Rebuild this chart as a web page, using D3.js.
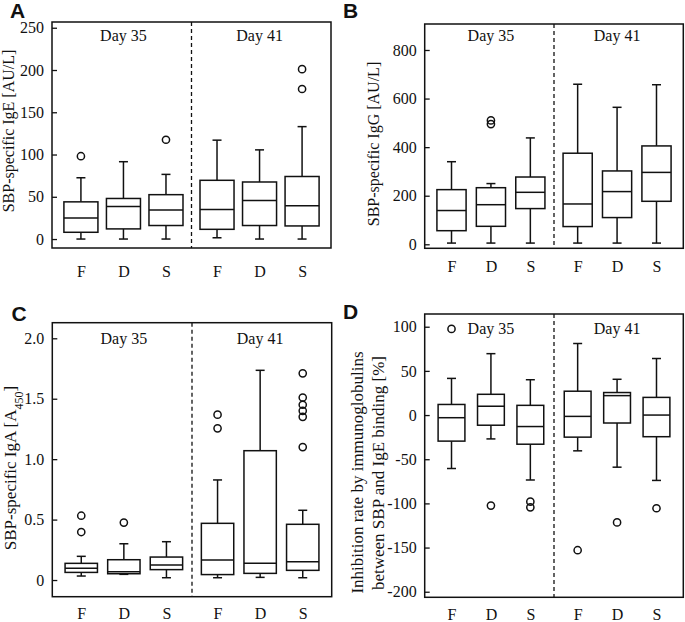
<!DOCTYPE html>
<html>
<head>
<meta charset="utf-8">
<script src="https://cdn.jsdelivr.net/npm/d3@7"></script>
<style>
body { margin: 0; background: #fff; }
text { font-family: "Liberation Serif", "DejaVu Serif", "Times New Roman", serif; fill: #111; }
</style>
</head>
<body>
<svg id="chart" width="685" height="622"></svg>
<script>
var groups = ["F", "D", "S", "F", "D", "S"];
var days = ["Day 35", "Day 41"];
var positions = [1, 2, 3, 4.2, 5.2, 6.2];

// each box: [low whisker, Q1, median, Q3, high whisker]
var igeBoxes = [[0, 8, 25, 44, 72.5], [0, 12, 38.5, 48, 91.5], [0, 16, 34.5, 52.5, 76.5],
                [1.5, 11.5, 35, 69.5, 117], [0, 16, 45.5, 67.5, 105.5], [0, 15.5, 39.5, 74, 133]];
var igeOutliers = [[98], [], [117.5], [], [], [177.5, 201]];
var igeTicks = [0, 50, 100, 150, 200, 250];

var iggBoxes = [[5, 56, 139, 225, 340], [5, 74, 163, 233, 250], [5, 147, 214, 277, 438],
                [5, 73, 166, 375, 659], [5, 110, 217, 302, 564], [5, 177, 296, 405, 657]];
var iggOutliers = [[], [495, 510], [], [], [], []];
var iggTicks = [0, 200, 400, 600, 800];

var igaBoxes = [[0.033, 0.063, 0.097, 0.138, 0.196], [0.047, 0.052, 0.069, 0.168, 0.30], [0.019, 0.086, 0.124, 0.19, 0.317],
                [0.019, 0.045, 0.166, 0.469, 0.828], [0.022, 0.055, 0.138, 1.07, 1.735], [0.019, 0.08, 0.152, 0.461, 0.577]];
var igaOutliers = [[0.397, 0.532], [0.475], [], [1.255, 1.368], [], [1.10, 1.35, 1.40, 1.45, 1.51, 1.71]];
var igaTicks = [0, 0.5, 1.0, 1.5, 2.0];

var inhBoxes = [[-60.5, -29.5, -3, 12, 41.5], [-27, -11.5, 10, 23.5, 69.5], [-73.5, -33, -13, 11, 40],
                [-40.5, -25, -1.5, 27, 81], [-59, -9, 22, 25.5, 40.5], [-74, -24.5, 0, 20, 64]];
var inhOutliers = [[97.5], [-102.5], [-98, -104.5], [-153], [-121.5], [-105.5]];
var inhTicks = [100, 50, 0, -50, -100, -150, -200];

var svg = d3.select("#chart");
var ink = "#111";
var serif = "'Liberation Serif', 'DejaVu Serif', 'Times New Roman', serif";

function drawPanel(p) {
	var g = svg.append("g");

	var x = d3.scaleLinear().domain([0.32, 6.88]).range([p.left, p.right]);
	var y = d3.scaleLinear().domain(p.yDomain).range([p.bottom, p.top]);
	var bw = (x(1) - x(0)) * p.boxWidth;

	// y axis, ticks point inward
	var yAxis = d3.axisLeft(y).tickValues(p.ticks).tickSizeInner(-5).tickSizeOuter(0).tickPadding(8).tickFormat(p.format);
	var ya = g.append("g").attr("transform", "translate(" + p.left + ",0)").call(yAxis);
	ya.select(".domain").remove();
	ya.selectAll("line").attr("stroke", ink).attr("stroke-width", 1.3);
	ya.selectAll("text").attr("font-size", 16).style("font-family", serif).attr("fill", ink);

	// x axis labels
	var xAxis = d3.axisBottom(x).tickValues(positions).tickSize(0).tickPadding(p.xPad)
		.tickFormat(function(d, i) { return groups[i]; });
	var xa = g.append("g").attr("transform", "translate(0," + p.bottom + ")").call(xAxis);
	xa.select(".domain").remove();
	xa.selectAll("text").attr("font-size", 16).style("font-family", serif).attr("fill", ink);

	// divider between days
	g.append("line").attr("x1", x(3.6)).attr("x2", x(3.6)).attr("y1", p.top).attr("y2", p.bottom)
		.attr("stroke", ink).attr("stroke-width", 1.3).attr("stroke-dasharray", "4,3");

	g.selectAll(".day").data(days).enter().append("text")
		.attr("x", function(d, i) { return x(i == 0 ? 2 : 5.2); })
		.attr("y", p.dayY).attr("dy", "0.35em")
		.attr("text-anchor", "middle").attr("font-size", 16).style("font-family", serif)
		.text(function(d) { return d; });

	// boxes
	var box = g.selectAll(".box").data(p.boxes).enter().append("g")
		.attr("transform", function(d, i) { return "translate(" + x(positions[i]) + ",0)"; });

	box.append("line").attr("x1", 0).attr("x2", 0)
		.attr("y1", function(d) { return y(d[0]); }).attr("y2", function(d) { return y(d[1]); });
	box.append("line").attr("x1", 0).attr("x2", 0)
		.attr("y1", function(d) { return y(d[3]); }).attr("y2", function(d) { return y(d[4]); });
	box.append("line").attr("x1", -4.5).attr("x2", 4.5)
		.attr("y1", function(d) { return y(d[0]); }).attr("y2", function(d) { return y(d[0]); });
	box.append("line").attr("x1", -4.5).attr("x2", 4.5)
		.attr("y1", function(d) { return y(d[4]); }).attr("y2", function(d) { return y(d[4]); });
	box.append("rect").attr("x", -bw / 2).attr("width", bw)
		.attr("y", function(d) { return y(d[3]); })
		.attr("height", function(d) { return y(d[1]) - y(d[3]); })
		.attr("fill", "#fff");
	box.append("line").attr("x1", -bw / 2).attr("x2", bw / 2)
		.attr("y1", function(d) { return y(d[2]); }).attr("y2", function(d) { return y(d[2]); });
	box.selectAll("line, rect").attr("stroke", ink).attr("stroke-width", 1.5);

	// outliers
	p.outliers.forEach(function(list, i) {
		g.selectAll(null).data(list).enter().append("circle")
			.attr("cx", x(positions[i])).attr("cy", function(d) { return y(d); })
			.attr("r", 3.6).attr("fill", "none").attr("stroke", ink).attr("stroke-width", 1.5);
	});

	// frame
	g.append("rect").attr("x", p.left).attr("y", p.top)
		.attr("width", p.right - p.left).attr("height", p.bottom - p.top)
		.attr("fill", "none").attr("stroke", ink).attr("stroke-width", 1.5);

	// panel letter
	svg.append("text").attr("x", p.letterX).attr("y", p.letterY).text(p.letter)
		.style("font-family", "'Liberation Sans', Arial, sans-serif").style("font-weight", "bold")
		.attr("font-size", 21);

	// y label
	p.label(g);
}

function rotLabel(g, cx, cy, size) {
	return g.append("text").attr("transform", "translate(" + cx + "," + cy + ") rotate(-90)")
		.attr("dy", "0.35em").attr("text-anchor", "middle").attr("font-size", size)
		.style("font-family", serif);
}

drawPanel({
	letter: "A", letterX: 10, letterY: 18,
	left: 52, right: 331, top: 22, bottom: 248,
	yDomain: [-10.6, 256.8], ticks: igeTicks, format: function(d) { return d; },
	boxes: igeBoxes, outliers: igeOutliers, boxWidth: 0.8, xPad: 18, dayY: 35,
	label: function(g) { rotLabel(g, 8, 131, 16).text("SBP-specific IgE [AU/L]"); }
});

drawPanel({
	letter: "B", letterX: 343, letterY: 18,
	left: 424.7, right: 683.3, top: 24, bottom: 248.3,
	yDomain: [-16.5, 907], ticks: iggTicks, format: function(d) { return d; },
	boxes: iggBoxes, outliers: iggOutliers, boxWidth: 0.74, xPad: 12.5, dayY: 35,
	label: function(g) { rotLabel(g, 373, 144, 16).text("SBP-specific IgG [AU/L]"); }
});

drawPanel({
	letter: "C", letterX: 11.5, letterY: 321,
	left: 52.3, right: 331.7, top: 322.7, bottom: 596.7,
	yDomain: [-0.138, 2.129], ticks: igaTicks, format: function(d) { return d == 0 ? "0" : d3.format(".1f")(d); },
	boxes: igaBoxes, outliers: igaOutliers, boxWidth: 0.76, xPad: 11, dayY: 338.3,
	label: function(g) {
		var t = rotLabel(g, 10, 468, 17);
		t.append("tspan").text("SBP-specific IgA [A");
		t.append("tspan").attr("baseline-shift", "sub").attr("font-size", 12).text("450");
		t.append("tspan").text("]");
	}
});

drawPanel({
	letter: "D", letterX: 343, letterY: 318.5,
	left: 424.7, right: 683.3, top: 314, bottom: 597.3,
	yDomain: [-206.3, 114.4], ticks: inhTicks, format: function(d) { return String(d); },
	boxes: inhBoxes, outliers: inhOutliers, boxWidth: 0.68, xPad: 11, dayY: 328.3,
	label: function(g) {
		rotLabel(g, 357, 472.5, 17).text("Inhibition rate by immunoglobulins");
		rotLabel(g, 378, 473, 17).text("between SBP and IgE binding [%]");
	}
});
</script>
</body>
</html>
